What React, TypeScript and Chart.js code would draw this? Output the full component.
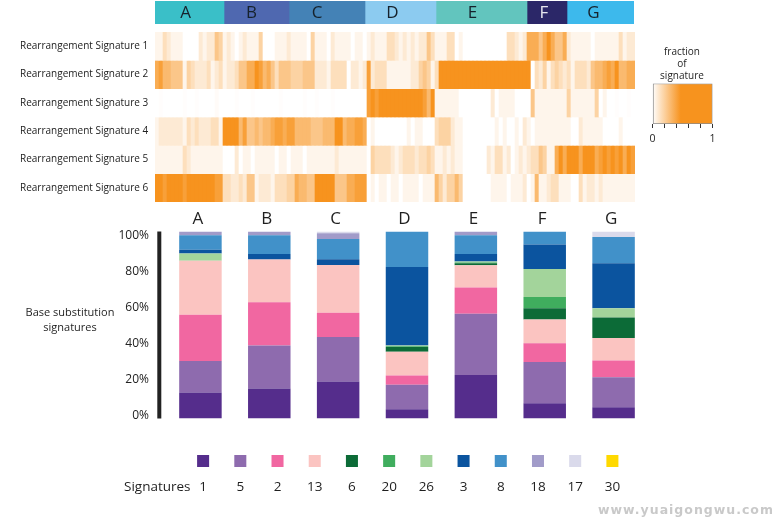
import React, { useEffect, useRef } from "react";
import { Chart, registerables } from "chart.js";

Chart.register(...registerables);

// ---------- data ----------
const groups = ["A", "B", "C", "D", "E", "F", "G"];
const groupSizes = [69, 65, 76, 71, 91, 40, 67];
const groupColors = ["#3ABFC8", "#4F68B0", "#4482B6", "#8CCBF0", "#62C5BE", "#2B2768", "#3DB9EC"];

const rearrLabels = [
  "Rearrangement Signature 1",
  "Rearrangement Signature 2",
  "Rearrangement Signature 3",
  "Rearrangement Signature 4",
  "Rearrangement Signature 5",
  "Rearrangement Signature 6",
];
// fraction of each signature (percent) for each ordered column of samples
const rearr1 = [
  5,5,15,10,5,5,5,0,0,0,0,10,5,10,10,25,20,5,10,5,0,5,10,5,5,5,20,0,0,0,
  5,5,5,10,5,5,5,5,0,20,5,5,5,0,10,5,5,5,5,0,5,5,0,5,10,5,5,5,15,15,
  10,5,10,5,10,5,10,10,25,15,5,5,5,15,15,0,5,0,0,0,0,0,0,0,0,0,0,0,15,15,
  10,5,10,35,35,35,25,35,45,35,25,25,35,10,5,5,5,5,5,0,5,5,5,5,5,5,15,5,10,10,
];
const rearr2 = [
  35,40,30,30,25,25,25,5,20,15,10,10,10,15,5,10,15,5,10,10,15,25,25,35,35,45,40,30,35,25,
  15,25,25,25,20,20,20,25,25,25,10,10,10,5,15,15,15,15,0,10,10,5,10,40,10,15,15,15,5,5,
  5,5,5,5,10,10,20,25,20,5,15,55,60,55,60,60,60,60,60,60,60,60,60,60,60,60,60,60,60,60,
  60,45,60,45,0,15,10,20,5,15,20,15,10,15,5,15,15,15,10,25,30,30,35,40,35,45,30,30,35,35,
];
const rearr3 = [
  0,1,0,0,0,0,0,1,0,0,1,0,0,0,0,2,0,0,0,0,1,0,0,0,1,0,0,0,0,0,
  0,1,0,0,0,0,0,1,0,0,1,0,0,0,1,0,0,0,0,0,0,0,0,40,45,40,45,45,60,60,
  60,60,60,60,60,60,60,40,30,45,5,5,5,5,5,5,0,0,0,0,0,0,0,0,10,0,5,5,5,5,
  0,0,0,0,25,5,5,5,5,5,5,5,5,20,5,5,5,5,5,5,20,0,5,0,0,1,0,0,1,0,
];
const rearr4 = [
  5,10,10,10,10,10,10,5,15,10,15,10,10,10,15,15,5,60,60,60,60,30,40,25,25,30,25,30,30,35,
  40,40,35,40,40,30,30,30,30,25,25,25,30,30,30,45,45,30,35,35,40,40,35,0,5,0,0,0,0,0,
  0,0,0,5,0,5,5,0,0,0,15,20,20,20,10,5,5,0,0,0,0,0,0,0,0,5,0,5,0,0,
  5,0,10,5,0,5,5,5,5,5,5,5,5,5,0,0,10,5,5,5,5,5,0,0,0,0,5,0,0,0,
];
const rearr5 = [
  5,5,5,5,5,5,5,15,10,5,5,5,5,5,5,5,5,0,0,0,10,0,5,5,0,5,5,5,5,5,
  0,5,5,0,5,5,5,0,5,5,5,5,5,5,5,10,5,5,5,5,5,5,5,0,20,15,15,15,15,10,
  5,10,15,15,15,10,15,15,20,15,5,5,10,5,10,5,5,0,0,0,0,0,0,10,5,15,15,5,10,0,
  5,10,5,10,15,15,25,20,5,5,35,45,35,45,45,45,35,60,45,45,35,40,45,40,45,40,45,35,45,40,
];
const rearr6 = [
  45,45,40,45,45,45,45,40,60,60,60,60,60,60,60,40,40,15,15,10,10,15,10,25,25,5,10,10,10,5,
  15,15,15,20,20,35,30,30,25,25,60,45,60,60,45,25,25,25,35,35,40,40,40,0,5,0,5,5,0,5,
  5,0,5,5,5,5,0,5,5,5,30,20,10,20,20,30,20,0,0,0,0,0,0,0,5,5,5,5,0,5,
  5,5,10,0,5,30,5,5,10,15,15,5,5,5,0,0,15,5,10,10,5,10,5,5,5,5,5,5,5,5,
];
const rearrRows = [rearr1, rearr2, rearr3, rearr4, rearr5, rearr6];

const sigNames = ["1", "5", "2", "13", "6", "20", "26", "3", "8", "18", "17", "30"];
const sigColors = ["#552D8C", "#8E6BAE", "#F167A1", "#FBC4C1", "#0C6B37", "#40AD5E", "#A3D49B", "#0B549F", "#4191C9", "#A19BC9", "#DADAEB", "#FFD900"];
const base1 = [13.9, 16, 19.8, 5, 23.2, 8.2, 6];
const base5 = [16.8, 23.1, 23.8, 13, 32.8, 22, 16.1];
const base2 = [24.8, 23, 13, 5, 14, 10, 8.9];
const base13 = [28.8, 22.9, 25.5, 12.7, 12, 12.8, 12];
const base6 = [0, 0, 0, 2.5, 1, 6, 11];
const base20 = [0, 0, 0, 0.4, 0.4, 6, 0];
const base26 = [3.9, 0, 0, 0.5, 0.6, 15, 5];
const base3 = [2, 3, 3.1, 41.9, 4, 13, 24];
const base8 = [7.8, 10, 10.8, 19, 10, 7, 14];
const base18 = [2, 2, 3, 0, 2, 0, 0];
const base17 = [0, 0, 1, 0, 0, 0, 3];
const base30 = [0, 0, 0, 0, 0, 0, 0];
const baseRows = [base1, base5, base2, base13, base6, base20, base26, base3, base8, base18, base17, base30];

const yTicks = [0, 20, 40, 60, 80, 100];

// ---------- style ----------
const FONT = '"Open Sans", sans-serif';
const INK = "#1f1f1f";
const W = 772;
const H = 522;
const headerNudge = [-4, -5, -10, -8, -9, -3, -7];

function heatColor(pct: number) {
  const t = Math.pow(Math.min(pct / 45, 1), 1.1);
  const r = Math.round(255 + (247 - 255) * t);
  const g = Math.round(255 + (147 - 255) * t);
  const b = Math.round(255 + (30 - 255) * t);
  return `rgb(${r},${g},${b})`;
}

const off = { display: false };
const noAnim = { animation: false as const, responsive: false, events: [] as any[] };
const plainPlugins = { legend: off, tooltip: { enabled: false }, title: off };

export default function App() {
  const refs = [useRef<HTMLCanvasElement>(null), useRef<HTMLCanvasElement>(null), useRef<HTMLCanvasElement>(null), useRef<HTMLCanvasElement>(null), useRef<HTMLCanvasElement>(null)];

  useEffect(() => {
    const charts: Chart[] = [];
    Chart.defaults.font.family = FONT;
    Chart.defaults.color = INK;

    // group band
    charts.push(
      new Chart(refs[0].current!, {
        type: "bar",
        data: {
          labels: ["groups"],
          datasets: groups.map((g, i) => ({
            label: g,
            data: [groupSizes[i]],
            backgroundColor: groupColors[i],
            barPercentage: 1,
            categoryPercentage: 1,
            borderWidth: 0,
          })),
        },
        options: {
          ...noAnim,
          indexAxis: "y",
          layout: { padding: { left: 155, right: W - 634, top: 1, bottom: H - 24 } },
          scales: {
            x: { display: false, stacked: true, min: 0, max: groupSizes.reduce((a, b) => a + b, 0) },
            y: { display: false, stacked: true },
          },
          plugins: plainPlugins,
        } as any,
        plugins: [
          {
            id: "bandLabels",
            afterDatasetsDraw(chart: any) {
              const { ctx } = chart;
              ctx.save();
              ctx.font = `17px ${FONT}`;
              ctx.textAlign = "center";
              ctx.textBaseline = "middle";
              groups.forEach((g, i) => {
                const el = chart.getDatasetMeta(i).data[0];
                ctx.fillStyle = i === 5 ? "#E6E6EE" : "#16222c";
                ctx.fillText(g, (el.x + el.base) / 2 + headerNudge[i], el.y + 1);
              });
              ctx.restore();
            },
          },
        ],
      })
    );

    // heat map
    charts.push(
      new Chart(refs[1].current!, {
        type: "bar",
        data: {
          labels: rearr1.map((_, i) => String(i + 1)),
          datasets: rearrRows.map((row, r) => ({
            label: rearrLabels[r],
            data: row.map(() => [2 * r, 2 * r + 2]),
            backgroundColor: row.map(heatColor),
            barPercentage: 1,
            categoryPercentage: 1,
            borderWidth: 0,
            grouped: false,
          })),
        },
        options: {
          ...noAnim,
          layout: { padding: { left: 20, right: W - 635, top: 32, bottom: H - 202 } },
          scales: {
            x: { display: false },
            y: {
              reverse: true,
              min: 0,
              max: 12,
              afterFit(s: any) { s.width = 135; },
              grid: { display: false, drawTicks: false },
              border: { display: false },
              ticks: {
                stepSize: 1,
                autoSkip: false,
                crossAlign: "far",
                font: { size: 10 },
                color: "#222",
                callback: (v: any) => (Number(v) % 2 === 1 ? rearrLabels[(Number(v) - 1) / 2] : ""),
              },
            },
          },
          plugins: plainPlugins,
        } as any,
      })
    );

    // stacked bars
    charts.push(
      new Chart(refs[2].current!, {
        type: "bar",
        data: {
          labels: groups,
          datasets: sigNames.map((s, i) => ({
            label: "Signature " + s,
            data: baseRows[i],
            backgroundColor: sigColors[i],
            borderWidth: 0,
            barPercentage: 0.617,
            categoryPercentage: 1,
            yAxisID: "y",
          })),
        },
        options: {
          ...noAnim,
          layout: { padding: { left: 100, right: W - 648, top: 205, bottom: H - 418.5 } },
          scales: {
            x: {
              stacked: true,
              position: "top",
              afterFit(s: any) { s.height = 26.5; },
              grid: { display: false, drawTicks: false },
              border: { display: false },
              ticks: { font: { size: 17 }, color: INK, padding: 2, maxRotation: 0, labelOffset: -2.5 },
            },
            y: { stacked: true, min: 0, max: 100, display: false },
            yTicks: {
              position: "left",
              min: -1.4,
              max: 102.5,
              afterBuildTicks(s: any) { s.ticks = yTicks.map((v) => ({ value: v })); },
              afterFit(s: any) { s.width = 66; },
              grid: { display: false, drawTicks: false },
              border: { display: false },
              ticks: { font: { size: 12 }, color: "#222", padding: 17, callback: (v: any) => v + "%" },
            },
          },
          plugins: plainPlugins,
        } as any,
        plugins: [
          {
            id: "axisRule",
            afterDraw(chart: any) {
              const { ctx, chartArea } = chart;
              ctx.save();
              ctx.fillStyle = "#222";
              ctx.fillRect(chartArea.left - 8.7, chartArea.top, 4, chartArea.bottom - chartArea.top);
              ctx.restore();
            },
          },
        ],
      })
    );

    // signature key
    charts.push(
      new Chart(refs[3].current!, {
        type: "line",
        data: {
          labels: sigNames,
          datasets: [
            {
              label: "key",
              data: sigNames.map(() => 1),
              showLine: false,
              pointStyle: "rect",
              pointRadius: 8.5,
              pointBackgroundColor: sigColors,
              pointBorderWidth: 0,
            },
          ],
        },
        options: {
          ...noAnim,
          layout: { padding: { left: 184.5, right: W - 631, top: 450, bottom: H - 500 } },
          scales: {
            x: {
              offset: true,
              afterFit(s: any) { s.height = 28; },
              grid: { display: false, drawTicks: false },
              border: { display: false },
              ticks: { font: { size: 13.5 }, color: INK, padding: 7, maxRotation: 0, autoSkip: false },
            },
            y: { display: false, min: 0, max: 2 },
          },
          plugins: plainPlugins,
        } as any,
      })
    );

    // colour bar
    charts.push(
      new Chart(refs[4].current!, {
        type: "bar",
        data: {
          labels: ["fraction"],
          datasets: [
            {
              label: "fraction of signature",
              data: [[0, 1]],
              barPercentage: 1,
              categoryPercentage: 1,
              borderWidth: 1,
              borderSkipped: false,
              borderColor: "#8a8a8a",
              backgroundColor(c: any) {
                const area = c.chart.chartArea;
                if (!area) return "#F7931E";
                const g = c.chart.ctx.createLinearGradient(area.left, 0, area.right, 0);
                g.addColorStop(0, "#FFFFFF");
                g.addColorStop(0.47, "#F7931E");
                g.addColorStop(1, "#F7931E");
                return g;
              },
            },
          ],
        },
        options: {
          ...noAnim,
          indexAxis: "y",
          layout: { padding: { left: 652.5, right: W - 712.5, top: 83.5, bottom: H - 146 } },
          scales: {
            x: {
              min: 0,
              max: 1,
              afterFit(s: any) { s.height = 22; },
              grid: { drawOnChartArea: false, tickLength: 4, color: "#333", tickWidth: 1 },
              border: { display: false },
              ticks: {
                stepSize: 0.2,
                autoSkip: false,
                maxRotation: 0,
                padding: 5,
                font: { size: 10.5 },
                color: INK,
                callback: (v: any) => (Number(v) === 0 || Number(v) === 1 ? String(v) : ""),
              },
            },
            y: { display: false },
          },
          plugins: plainPlugins,
        } as any,
      })
    );

    return () => charts.forEach((c) => c.destroy());
  }, []);

  const text = (s: React.CSSProperties): React.CSSProperties => ({
    position: "absolute",
    fontFamily: FONT,
    color: INK,
    whiteSpace: "nowrap",
    lineHeight: 1,
    ...s,
  });

  return (
    <div style={{ position: "absolute", left: 0, top: 0, width: W, height: H, overflow: "hidden", background: "#fff" }}>
      {refs.map((r, i) => (
        <canvas key={i} ref={r} width={W} height={H} style={{ position: "absolute", left: 0, top: 0, width: W, height: H }} />
      ))}
      <div style={text({ left: 652, width: 60, top: 45, textAlign: "center", fontSize: 10, lineHeight: "12px" })}>
        fraction<br />of<br />signature
      </div>
      <div style={text({ left: 10, width: 120, top: 304, textAlign: "center", fontSize: 11, lineHeight: "15px" })}>
        Base substitution<br />signatures
      </div>
      <div style={text({ left: 124, top: 480, fontSize: 13.5 })}>Signatures</div>
      <div style={text({ left: 598, top: 504, fontSize: 12.5, fontWeight: 700, letterSpacing: 1, color: "#c9c9c9", fontFamily: '"DejaVu Sans", sans-serif' })}>www.yuaigongwu.com</div>
    </div>
  );
}
